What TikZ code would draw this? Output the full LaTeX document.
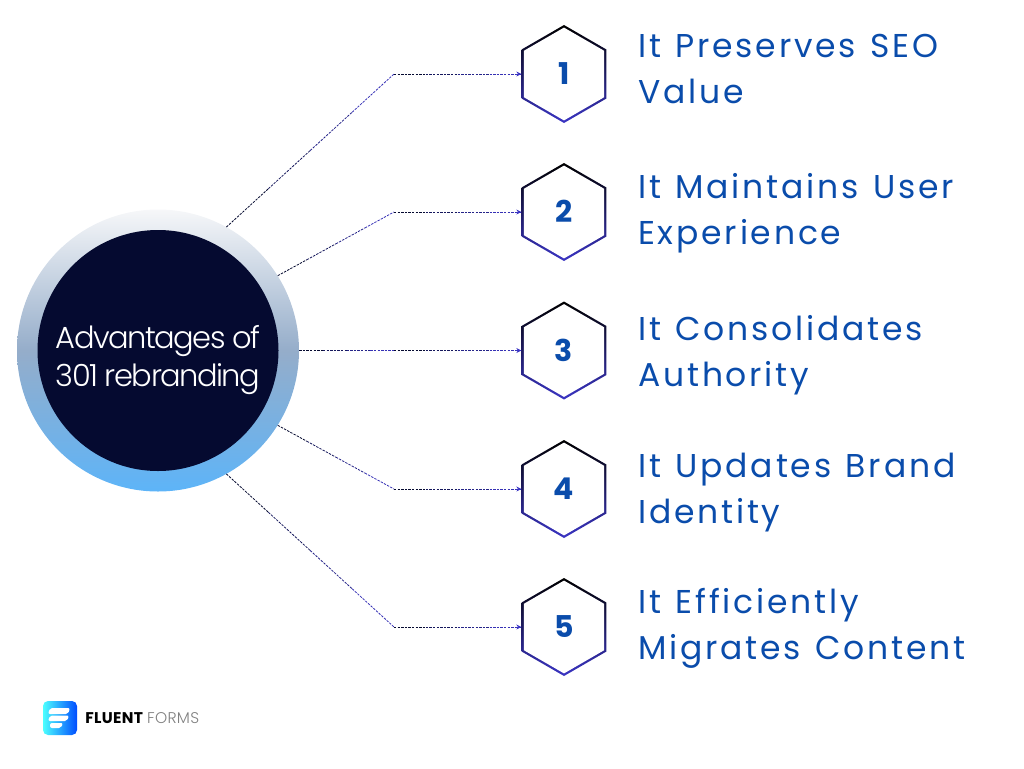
\documentclass[tikz,border=0pt]{standalone}
\usepackage{fontspec}
\setmainfont{Poppins}
\newfontfamily\titlefont[UprightFont=* Light,LetterSpace=-5]{Poppins}
\newfontfamily\labelfont[LetterSpace=8.5,WordSpace=1.25]{Poppins}
\newfontfamily\brandfont[LetterSpace=2]{Poppins}
\newfontfamily\brandlight[UprightFont=* Light,LetterSpace=2]{Poppins}
\usetikzlibrary{positioning,calc,shapes.geometric,arrows.meta}
\definecolor{navy}{HTML}{050A30}
\definecolor{linkblue}{HTML}{3B35C4}
\definecolor{textblue}{HTML}{0A4CAB}
\definecolor{skyblue}{HTML}{5DB4F8}
\definecolor{ringtop}{HTML}{F6F7F9}
\definecolor{ringmid}{HTML}{95ADCA}
\tikzset{
  hubring/.style={circle, minimum size=282pt, inner sep=0pt, top color=ringtop, bottom color=skyblue, middle color=ringmid},
  hubcore/.style={circle, minimum size=241pt, inner sep=0pt, fill=navy},
  hubtitle/.style={text=white, align=center, inner sep=0pt,
    font=\titlefont\fontsize{30.5}{38}\selectfont},
  hexring/.style={regular polygon, regular polygon sides=6, regular polygon rotate=30, minimum size=98pt, inner sep=0pt,
    top color=black, bottom color=linkblue},
  hexcore/.style={regular polygon, regular polygon sides=6, regular polygon rotate=30, minimum size=92.8pt, inner sep=0pt,
    fill=white, text=textblue, font=\bfseries\fontsize{30}{30}\selectfont},
  itemlabel/.style={anchor=west, align=left, text=textblue, inner sep=0pt,
    font=\labelfont\fontsize{33}{46}\selectfont},
  linkdash/.style={line width=0.8pt, dash pattern=on 2.4pt off 1.2pt}
}
\newcommand{\gradleg}[2]{%
  \foreach \st/\en/\mx in {0/.25/100,.25/.5/70,.5/.75/40,.75/1/10}{
    \draw[linkdash, color=navy!\mx!linkblue] ($(#1)!\st!(#2)$) -- ($(#1)!\en!(#2)$);
  }
}
\begin{document}
\begin{tikzpicture}[x=1pt,y=-1pt]
  \useasboundingbox (0,0) rectangle (1024,768);
  \node[hubring] (hub) at (158,350.5) {};
  \node[hubcore] (hubdisc) at (hub) {};
  \node[hubtitle, yshift=-10pt] (hubtext) at (hub) {Advantages of\\301 rebranding};

  \foreach \n/\ypos/\ytxt/\txt in {1/74/69/{It Preserves SEO\\Value},
                                   2/212/213/{It Maintains User\\Experience},
                                   3/350.5/355/{It Consolidates\\Authority},
                                   4/489/493/{It Updates Brand\\Identity},
                                   5/627/628/{It Efficiently\\Migrates Content}}{
    \node[hexring] (hex\n) at (564,\ypos) {};
    \node[hexcore] (num\n) at (hex\n) {\raisebox{1pt}{\n}};
    \node[itemlabel] (item\n) at (638,\ytxt) {\txt};
  }

  \coordinate (kink1) at (394,74);
  \coordinate (kink2) at (394,212);
  \coordinate (kink3) at (394,350.5);
  \coordinate (kink4) at (394,489);
  \coordinate (kink5) at (394,627);
  \gradleg{hub.61}{kink1}
  \gradleg{hub.32}{kink2}
  \gradleg{hub.east}{kink3}
  \gradleg{hub.-32}{kink4}
  \gradleg{hub.-61}{kink5}
  \foreach \n in {1,...,5}{
    \gradleg{kink\n}{hex\n.west}
    \draw[-{Stealth[length=5pt,width=5pt]}, line width=0.8pt, linkblue] ($(hex\n.west)+(-5,0)$) -- (hex\n.west);
  }

  \node[rounded corners=5pt, minimum size=34pt, inner sep=0pt,
        left color=cyan!70!white, right color=blue!70!cyan] (logo) at (60,718) {};
  \fill[white, rounded corners=2pt] (50,708) -- (70,708) -- (68,714) -- (48,714) -- cycle
                                    (50,715.5) -- (69,715.5) -- (67,721) -- (48,721) -- cycle
                                    (50,723) -- (63,723) -- (61,728) -- (50,728) -- cycle;
  \node[right=8pt of logo, inner sep=0pt, font=\fontsize{15.5}{15.5}\selectfont] (brand)
    {{\brandfont\bfseries FLUENT} {\brandlight\color{gray} FORMS}};
\end{tikzpicture}
\end{document}
